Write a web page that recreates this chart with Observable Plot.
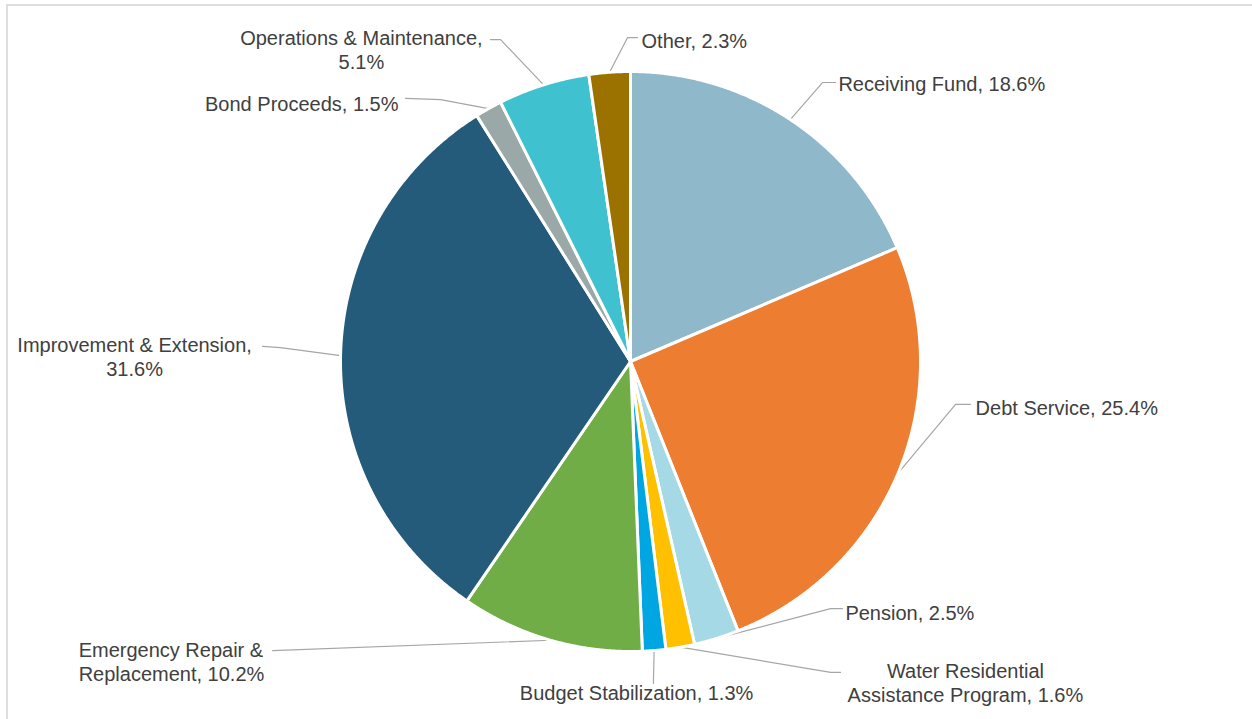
<!DOCTYPE html>
<html><head><meta charset="utf-8">
<script src="https://cdn.jsdelivr.net/npm/d3@7"></script>
<script src="https://cdn.jsdelivr.net/npm/@observablehq/plot@0.6"></script>
<style>
html,body{margin:0;padding:0;background:#fff;overflow:hidden}
#wrap{position:relative;width:1252px;height:719px;overflow:hidden;background:#fff}
#chart{position:absolute;left:0;top:0}
#border{position:absolute;left:6px;top:4px;width:1300px;height:800px;border:2px solid #dedede;box-sizing:border-box;pointer-events:none}
</style></head><body>
<div id="wrap"><div id="chart"></div><div id="border"></div></div>
<script>
// ---- data ----
const categories = [
  "Receiving Fund", "Debt Service", "Pension", "Water Residential Assistance Program",
  "Budget Stabilization", "Emergency Repair & Replacement", "Improvement & Extension",
  "Bond Proceeds", "Operations & Maintenance", "Other"
];
const values = [18.6, 25.4, 2.5, 1.6, 1.3, 10.2, 31.6, 1.5, 5.1, 2.3];
const colors = ["#8fb9cb", "#ed7d31", "#a6d9e6", "#ffc000", "#00a6e2", "#70ad47", "#245b7a", "#9aa8a8", "#40c1cf", "#9b7100"];

// ---- label layout (in pie-radius units, origin at pie centre) ----
const labelLayout = {
  "Receiving Fund":        {elbow:[0.662, 0.962], end:[0.707, 0.962], text:[0.717, 0.959], anchor:"start"},
  "Debt Service":          {elbow:[1.121,-0.148], end:[1.172,-0.148], text:[1.190,-0.159], anchor:"start"},
  "Pension":               {elbow:[0.690,-0.852], end:[0.731,-0.852], text:[0.741,-0.866], anchor:"start"},
  "Water Residential Assistance Program":
                           {elbow:[0.690,-1.072], end:[0.724,-1.072], text:[1.155,-1.105], anchor:"middle", breakAfter:"Residential"},
  "Budget Stabilization":  {elbow:[0.079,-1.110], end:[0.079,-1.110], text:[0.021,-1.141], anchor:"middle"},
  "Emergency Repair & Replacement":
                           {elbow:[-1.234,-0.997], end:[-1.234,-0.997], text:[-1.903,-1.033], anchor:"start", breakAfter:"&"},
  "Improvement & Extension":
                           {elbow:[-1.207, 0.048], end:[-1.269, 0.052], text:[-1.710, 0.019], anchor:"middle", breakAfter:"Extension,"},
  "Bond Proceeds":         {elbow:[-0.655, 0.903], end:[-0.776, 0.907], text:[-0.800, 0.890], anchor:"end"},
  "Operations & Maintenance":
                           {elbow:[-0.448, 1.110], end:[-0.483, 1.110], text:[-0.928, 1.076], anchor:"middle", breakAfter:"Maintenance,"},
  "Other":                 {elbow:[-0.010, 1.117], end:[0.024, 1.117], text:[0.038, 1.107], anchor:"start"}
};

// ---- build geometry from values ----
const rows = categories.map((name, i) => ({name, value: values[i]}));
const arcs = d3.pie().sort(null).value(d => d.value)(rows);

const slicePts = [];
const leaderPts = [];
const labels = [];
arcs.forEach(a => {
  const name = a.data.name;
  slicePts.push({name, u: 0, v: 0});
  const n = Math.max(2, Math.ceil((a.endAngle - a.startAngle) / (Math.PI / 720)));
  for (let k = 0; k <= n; k++) {
    const t = a.startAngle + (a.endAngle - a.startAngle) * k / n;
    slicePts.push({name, u: Math.sin(t), v: Math.cos(t)});
  }
  const mid = (a.startAngle + a.endAngle) / 2;
  const L = labelLayout[name];
  leaderPts.push({name, u: Math.sin(mid), v: Math.cos(mid)});
  leaderPts.push({name, u: L.elbow[0], v: L.elbow[1]});
  leaderPts.push({name, u: L.end[0], v: L.end[1]});
  let txt = `${name}, ${a.data.value.toFixed(1)}%`;
  if (L.breakAfter) txt = txt.replace(L.breakAfter + " ", L.breakAfter + "\n");
  labels.push({name, u: L.text[0], v: L.text[1], txt, anchor: L.anchor});
});

const cx = 630, cy = 361, R = 290, W = 1252, H = 719;
const textOpts = anchor => ({
  x: "u", y: "v", text: "txt", textAnchor: anchor, lineAnchor: "middle",
  fontSize: 20, fontFamily: "'Liberation Sans', Arial, sans-serif", fill: "#404040", lineHeight: 1.2
});

const chart = Plot.plot({
  width: W, height: H, margin: 0,
  x: {domain: [-cx / R, (W - cx) / R], axis: null},
  y: {domain: [-(H - cy) / R, cy / R], axis: null},
  color: {type: "ordinal", domain: categories, range: colors},
  style: {background: "transparent", overflow: "visible"},
  marks: [
    Plot.line(leaderPts, {x: "u", y: "v", z: "name", stroke: "#a6a6a6", strokeWidth: 1.2}),
    Plot.line(slicePts, {x: "u", y: "v", z: "name", fill: "name", stroke: "white", strokeWidth: 3, strokeLinejoin: "round", curve: "linear-closed"}),
    Plot.text(labels.filter(d => d.anchor === "start"), textOpts("start")),
    Plot.text(labels.filter(d => d.anchor === "middle"), textOpts("middle")),
    Plot.text(labels.filter(d => d.anchor === "end"), textOpts("end"))
  ]
});
document.getElementById("chart").appendChild(chart);
</script>
</body></html>
